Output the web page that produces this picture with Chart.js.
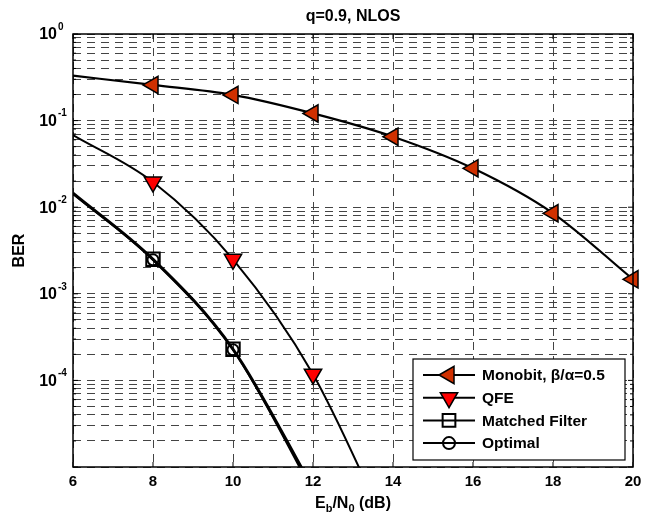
<!DOCTYPE html>
<html><head><meta charset="utf-8">
<script src="https://cdn.jsdelivr.net/npm/chart.js@4.4.0/dist/chart.umd.min.js"></script>
<style>html,body{margin:0;padding:0;background:#fff}#wrap{width:652px;height:516px}</style>
</head><body><div id="wrap"><canvas id="c" width="652" height="516"></canvas></div>
<script>
// ---- data ----
const titleText = 'q=0.9, NLOS';
const monobitX = [6, 8, 10, 12, 14, 16, 18, 20];
const monobit  = [0.330, 0.258, 0.198, 0.121, 0.0652, 0.0281, 0.0085, 0.00147];
const qfeX = [6, 8, 10, 12, 14];
const qfe  = [0.068, 0.0195, 0.0025, 0.000118, 0.0000014];
const mfX = [6, 8, 10, 12];
const matchedFilter = [0.0145, 0.0025, 0.000229, 0.0000057];
const optimal       = [0.0143, 0.00247, 0.000226, 0.0000052];
const seriesNames = ['Monobit, \u03B2/\u03B1=0.5', 'QFE', 'Matched Filter', 'Optimal'];
const xTicks = [6, 8, 10, 12, 14, 16, 18, 20];
const yTickExp = [0, -1, -2, -3, -4];
const yMin = 1e-5, yMax = 1;

const yGrid = [];
for (let e = -5; e < 0; e++) for (let m = 1; m <= 9; m++) yGrid.push(m * Math.pow(10, e));
yGrid.push(1);

const FONT = '"Liberation Sans", Arial, Helvetica, sans-serif';
const pts = (xs, ys) => xs.map((x, i) => ({x: x, y: ys[i]}));

const decor = {
  id: 'decor',
  afterDraw(chart) {
    const ctx = chart.ctx, a = chart.chartArea, xs = chart.scales.x, ys = chart.scales.y;
    ctx.save();
    // inward ticks
    ctx.strokeStyle = '#000'; ctx.lineWidth = 1; ctx.setLineDash([]);
    ctx.beginPath();
    xTicks.forEach(v => {
      const px = xs.getPixelForValue(v);
      ctx.moveTo(px, a.bottom); ctx.lineTo(px, a.bottom - 5);
      ctx.moveTo(px, a.top); ctx.lineTo(px, a.top + 5);
    });
    yGrid.forEach(v => {
      const py = ys.getPixelForValue(v);
      const lg = Math.log10(v);
      const L = Math.abs(lg - Math.round(lg)) < 1e-9 ? 5 : 3;
      ctx.moveTo(a.left, py); ctx.lineTo(a.left + L, py);
      ctx.moveTo(a.right, py); ctx.lineTo(a.right - L, py);
    });
    ctx.stroke();
    // frame
    ctx.lineWidth = 1.5;
    ctx.strokeRect(a.left, a.top, a.right - a.left, a.bottom - a.top);
    // y tick labels
    ctx.fillStyle = '#000';
    ctx.textBaseline = 'middle';
    yTickExp.forEach(e => {
      const py = ys.getPixelForValue(Math.pow(10, e));
      ctx.font = 'bold 16px ' + FONT; ctx.textAlign = 'right';
      ctx.fillText('10', 57, py + 1);
      ctx.font = 'bold 10px ' + FONT; ctx.textAlign = 'left';
      ctx.fillText(String(e), 58, py - 7);
    });
    // title
    ctx.font = 'bold 16px ' + FONT; ctx.textAlign = 'center'; ctx.textBaseline = 'alphabetic';
    ctx.fillText(titleText, (a.left + a.right) / 2, 21);
    // y title
    ctx.save();
    ctx.translate(20, (a.top + a.bottom) / 2);
    ctx.rotate(-Math.PI / 2);
    ctx.textAlign = 'center'; ctx.textBaseline = 'middle';
    ctx.font = 'bold 16px ' + FONT;
    ctx.fillText('BER', 0, 0);
    ctx.restore();
    // x title with subscripts
    const parts = [['E', 0], ['b', 1], ['/N', 0], ['0', 1], [' (dB)', 0]];
    const fMain = 'bold 16px ' + FONT, fSub = 'bold 11px ' + FONT;
    let tw = 0;
    parts.forEach(p => { ctx.font = p[1] ? fSub : fMain; tw += ctx.measureText(p[0]).width; });
    let cx = (a.left + a.right) / 2 - tw / 2;
    ctx.textAlign = 'left'; ctx.textBaseline = 'alphabetic';
    parts.forEach(p => {
      ctx.font = p[1] ? fSub : fMain;
      ctx.fillText(p[0], cx, p[1] ? 512 : 508);
      cx += ctx.measureText(p[0]).width;
    });
    // legend box
    const w = 212, h = 101;
    const x0 = a.right - 8 - w, y0 = a.bottom - 7 - h;
    ctx.fillStyle = '#fff'; ctx.fillRect(x0, y0, w, h);
    ctx.strokeStyle = '#000'; ctx.lineWidth = 1.2; ctx.strokeRect(x0, y0, w, h);
    chart.data.datasets.forEach((ds, i) => {
      const y = y0 + 16 + i * 22.7;
      ctx.strokeStyle = '#000'; ctx.lineWidth = 2;
      ctx.beginPath(); ctx.moveTo(x0 + 10, y); ctx.lineTo(x0 + 62, y); ctx.stroke();
      ctx.fillStyle = ds.pointBackgroundColor; ctx.strokeStyle = '#000'; ctx.lineWidth = ds.pointBorderWidth;
      Chart.helpers.drawPoint(ctx, {pointStyle: ds.pointStyle, rotation: ds.pointRotation || 0,
        radius: ds.legendRadius, borderWidth: ds.pointBorderWidth}, x0 + 36, y);
      ctx.fillStyle = '#000'; ctx.font = 'bold 15.5px ' + FONT;
      ctx.textAlign = 'left'; ctx.textBaseline = 'middle';
      ctx.fillText(ds.label, x0 + 69, y + 1);
    });
    ctx.restore();
  }
};

new Chart(document.getElementById('c'), {
  type: 'line',
  data: {
    datasets: [
      {label: seriesNames[0], data: pts(monobitX, monobit), borderColor: '#000', borderWidth: 2.2,
       pointStyle: 'triangle', pointRotation: -90, pointRadius: [0, 10, 10, 10, 10, 10, 10, 10], legendRadius: 10,
       pointBackgroundColor: '#D03000', pointBorderColor: '#000', pointBorderWidth: 1.5,
       cubicInterpolationMode: 'monotone', clip: false},
      {label: seriesNames[1], data: pts(qfeX, qfe), borderColor: '#000', borderWidth: 2,
       pointStyle: 'triangle', pointRotation: 180, pointRadius: [0, 10, 10, 10, 0], legendRadius: 10,
       pointBackgroundColor: '#FF0000', pointBorderColor: '#000', pointBorderWidth: 1.5,
       cubicInterpolationMode: 'monotone', clip: 0},
      {label: seriesNames[2], data: pts(mfX, matchedFilter), borderColor: '#000', borderWidth: 3,
       pointStyle: 'rect', pointRadius: [0, 9.5, 9.5, 0], legendRadius: 9,
       pointBackgroundColor: 'rgba(0,0,0,0)', pointBorderColor: '#000', pointBorderWidth: 2,
       cubicInterpolationMode: 'monotone', clip: 0},
      {label: seriesNames[3], data: pts(mfX, optimal), borderColor: '#000', borderWidth: 2,
       pointStyle: 'circle', pointRadius: [0, 5.5, 5.5, 0], legendRadius: 6,
       pointBackgroundColor: 'rgba(0,0,0,0)', pointBorderColor: '#000', pointBorderWidth: 2,
       cubicInterpolationMode: 'monotone', clip: 0}
    ]
  },
  options: {
    responsive: false, animation: false, devicePixelRatio: 1,
    layout: {padding: {top: 34, right: 19, left: 0, bottom: 0}},
    plugins: {legend: {display: false}, title: {display: false}, tooltip: {enabled: false}},
    elements: {point: {hoverRadius: 0}},
    scales: {
      x: {type: 'linear', min: xTicks[0], max: xTicks[xTicks.length - 1],
        afterBuildTicks: s => { s.ticks = xTicks.map(v => ({value: v})); },
        afterFit: s => { s.height = 49; },
        ticks: {font: {family: FONT, size: 15, weight: 'bold'}, color: '#000', padding: 6, maxRotation: 0, autoSkip: false},
        grid: {color: '#444', lineWidth: 1, drawTicks: false},
        border: {display: false, dash: [8, 6]}},
      y: {type: 'logarithmic', min: yMin, max: yMax,
        afterBuildTicks: s => { s.ticks = yGrid.map(v => ({value: v})); },
        afterFit: s => { s.width = 73; },
        ticks: {display: false},
        grid: {color: '#444', lineWidth: 1, drawTicks: false},
        border: {display: false, dash: [8, 6]}}
    }
  },
  plugins: [decor]
});
</script></body></html>
